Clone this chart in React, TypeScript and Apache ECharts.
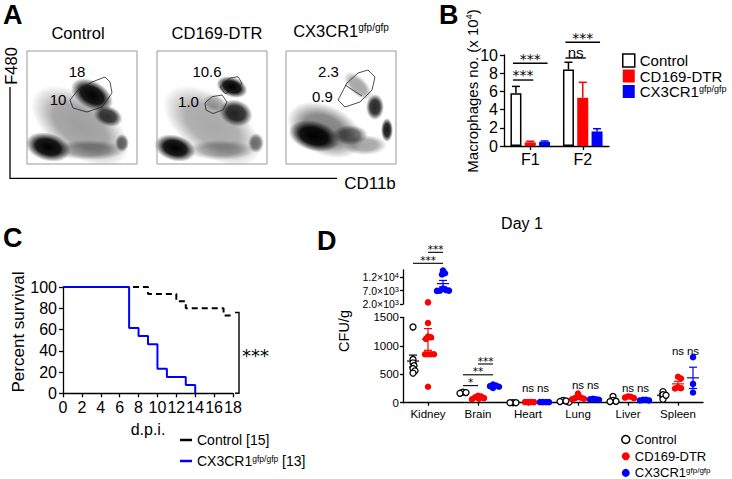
import React, { useEffect, useRef } from 'react';
import * as echarts from 'echarts';

const FONT = '"Liberation Sans", Arial, Helvetica, sans-serif';
const STAR_FONT = '"DejaVu Sans", Verdana, sans-serif';
const GROUP_COLORS = ['#000000', '#ff0000', '#0000ff'];

// ---------- Panel A (flow cytometry) ----------
const aTitles = ['Control', 'CD169-DTR', 'CX3CR1'];
const aGateUpper = ['18', '10.6', '2.3'];
const aGateLower = ['10', '1.0', '0.9'];

// ---------- Panel B ----------
const bCategories = ['F1', 'F2'];
const bGroupNames = ['Control', 'CD169-DTR', 'CX3CR1'];
const bControlMean = [5.8, 8.4];
const bControlErr = [0.75, 0.8];
const bCd169Mean = [0.4, 5.3];
const bCd169Err = [0.12, 1.7];
const bCx3Mean = [0.45, 1.6];
const bCx3Err = [0.1, 0.3];
const bSigCat = [0, 0, 1, 1];
const bSigFrom = [0, 0, 0, 0];
const bSigTo = [1, 2, 1, 2];
const bSigY = [7.25, 9.1, 9.67, 11.4];
const bSigLabel = ['***', '***', 'ns', '***'];

// ---------- Panel C ----------
const cNames = ['Control [15]', 'CX3CR1 [13]'];
const cControlDays = [0, 9, 12, 13, 17, 18];
const cControlSurv = [100, 93.3, 86.7, 80, 73.3, 73.3];
const cCx3Days = [0, 7, 8, 9, 10, 11, 13, 14];
const cCx3Surv = [100, 61.5, 53.8, 46.2, 23.1, 15.4, 7.7, 0];
const cBracket = [18, 76, 0];

// ---------- Panel D ----------
const dOrgans = ['Kidney', 'Brain', 'Heart', 'Lung', 'Liver', 'Spleen'];
const dControl = [
  [1330, 760, 700, 650, 600, 560, 520],
  [185, 165, 178],
  [0, 0, 0],
  [40, 20, 10, 30],
  [110, 40, 25, 20],
  [195, 140, 60, 130],
];
const dCd169 = [
  [2600, 1400, 1160, 1150, 1120, 850, 850, 850, 850, 280],
  [95, 80, 110, 120, 70, 60],
  [10, 10, 10, 10],
  [80, 60, 160, 90, 70, 100],
  [90, 105, 80, 110],
  [455, 425, 270, 255, 250],
];
const dCx3 = [
  [14500, 13500, 13000, 7800, 7000, 7000, 7200, 6900],
  [300, 280, 260, 320, 290],
  [10, 10, 10, 10],
  [60, 50, 70, 60],
  [50, 40, 50, 40],
  [800, 330, 180],
];
const dUpperTicks = [2000, 7000, 12000];
// brackets: [category, fromGroup, toGroup, y, label]
const dSigCat = [0, 0, 1, 1, 1];
const dSigFrom = [0, 1, 0, 0, 1];
const dSigTo = [2, 2, 1, 2, 2];
const dSigY = [17200, 21300, 300, 490, 680];
const dSigLabel = ['***', '***', '*', '**', '***'];
// ns labels: [category, group, y]
const dNsCat = [2, 2, 3, 3, 4, 4, 5, 5];
const dNsGroup = [1, 2, 1, 2, 1, 2, 1, 2];
const dNsY = [264, 264, 311, 311, 258, 258, 914, 914];

// ---------- layout constants ----------
const B_BAR_W = 11;
const B_SPACING = 14.3;
const D_LEFT = 403, D_WIDTH = 300;
const D_UP_TOP = 270, D_UP_H = 34, D_UP_MIN = 2000, D_UP_MAX = 14700;
const D_LOW_TOP = 317.3, D_LOW_H = 85.4, D_LOW_MAX = 1500;
const D_BREAK = 2000;
const D_GROUP_OFFSET = 0.3;

const supRich = (size: number) => ({
  n: { fontSize: size, fontFamily: FONT, color: '#000', verticalAlign: 'bottom', lineHeight: size },
  s: { fontSize: Math.round(size * 0.6 * 2) / 2, fontFamily: FONT, color: '#000', verticalAlign: 'top', lineHeight: size * 0.6 },
});
const supName = (name: string) =>
  name.startsWith('CX3CR1') ? `{n|CX3CR1}{s|gfp/gfp}{n|${name.slice(6)}}` : `{n|${name}}`;

function txt(x: number, y: number, text: string, o: any = {}) {
  const align = o.align || 'center';
  const va = o.va || 'middle';
  return {
    type: 'text', x, y, silent: true, rotation: o.rotation || 0, z: 100,
    style: {
      text, fill: '#000', fontFamily: o.family || FONT, fontSize: o.size || 14, fontWeight: o.weight || 'normal',
      align, verticalAlign: va, textAlign: align, textVerticalAlign: va, rich: o.rich,
    },
  };
}
function annot(x: number, y: number, text: string, star: boolean, size: number) {
  return {
    type: 'text', x, y,
    style: {
      text, fontFamily: star ? STAR_FONT : FONT, fontSize: size, lineHeight: star ? 8 : 10, fill: '#000',
      align: 'center', verticalAlign: 'middle', textAlign: 'center', textVerticalAlign: 'middle',
    },
  };
}

function dPixelY(v: number) {
  return v >= D_BREAK
    ? D_UP_TOP + D_UP_H - ((v - D_UP_MIN) / (D_UP_MAX - D_UP_MIN)) * D_UP_H
    : D_LOW_TOP + D_LOW_H - (v / D_LOW_MAX) * D_LOW_H;
}

function swarm(ys: number[], minDist: number, step: number) {
  const order = ys.map((_, i) => i).sort((a, b) => ys[a] - ys[b]);
  const placed: { x: number; y: number }[] = [];
  const xs = new Array(ys.length).fill(0);
  for (const i of order) {
    for (let k = 0; k < 200; k++) {
      const m = Math.ceil(k / 2);
      const cand = k === 0 ? 0 : k % 2 === 1 ? m * step : -m * step;
      if (placed.every((p) => Math.hypot(p.x - cand, p.y - ys[i]) >= minDist)) {
        xs[i] = cand;
        placed.push({ x: cand, y: ys[i] });
        break;
      }
    }
  }
  return xs;
}
const mean = (a: number[]) => a.reduce((s, v) => s + v, 0) / a.length;
const sem = (a: number[]) => {
  const m = mean(a);
  const sd = Math.sqrt(a.reduce((s, v) => s + (v - m) ** 2, 0) / (a.length - 1));
  return sd / Math.sqrt(a.length);
};

function panelAGraphics() {
  const boxes = [27, 157, 286];
  const top = 51, w = 110, h = 113;
  const blobs = [
    [[80, 126, 56, 30, -35, 0.38], [92, 95, 23, 14, -30, 1], [108, 116, 15, 10, -20, 0.8], [48, 147, 23, 14, -15, 1], [122, 143, 7, 9, 0, 0.6], [88, 150, 38, 10, 0, 0.35]],
    [[212, 126, 56, 30, -35, 0.34], [232, 87, 16, 10, -20, 1], [236, 113, 17, 13, -20, 0.85], [175, 148, 21, 13, -15, 1], [256, 143, 8, 10, 0, 0.55], [215, 103, 12, 8, -20, 0.25], [220, 150, 35, 10, 0, 0.3]],
    [[325, 130, 40, 25, -25, 0.5], [314, 136, 26, 15, -15, 1], [375, 107, 9, 13, 0, 0.85], [387, 130, 6, 12, 0, 0.9], [350, 135, 18, 10, 0, 0.55], [358, 86, 18, 9, -45, 0.35], [365, 145, 22, 10, 0, 0.35]],
  ];
  const gates = [
    [[[70, 100], [78, 90], [92, 82], [105, 77], [110, 82], [112, 93], [102, 107], [87, 112], [73, 108]]],
    [[[220, 87], [230, 78], [238, 76.7], [242, 83], [237, 90], [225, 93.5]], [[205, 103], [212, 96.7], [222, 95], [227, 102], [223, 110], [213, 113.5], [206, 110]]],
    [[[338, 100], [347, 83], [358, 73], [368, 70], [375, 77], [372, 90], [360, 102], [345, 107]]],
  ];
  const els: any[] = [];
  blobs.forEach((set) =>
    set.forEach(([cx, cy, rx, ry, rot, a]) => {
      els.push({
        type: 'ellipse', x: cx, y: cy, rotation: (rot * Math.PI) / 180, silent: true,
        shape: { cx: 0, cy: 0, rx, ry },
        style: {
          fill: new echarts.graphic.RadialGradient(0.5, 0.5, 0.5, [
            { offset: 0, color: `rgba(0,0,0,${a})` },
            { offset: 0.55, color: `rgba(0,0,0,${a * 0.9})` },
            { offset: 1, color: 'rgba(0,0,0,0)' },
          ]),
        },
      });
    })
  );
  gates.forEach((gs) =>
    gs.forEach((pts) =>
      els.push({ type: 'polygon', silent: true, shape: { points: pts }, style: { fill: 'none', stroke: '#222', lineWidth: 0.8 } })
    )
  );
  els.push({ type: 'line', silent: true, shape: { x1: 345, y1: 85, x2: 362, y2: 96 }, style: { stroke: '#222', lineWidth: 0.8 } });
  boxes.forEach((x) =>
    els.push({ type: 'rect', silent: true, shape: { x, y: top, width: w, height: h }, style: { fill: 'none', stroke: '#999', lineWidth: 1 } })
  );
  els.push({ type: 'polyline', silent: true, shape: { points: [[10, 87], [10, 178.3], [337, 178.3]] }, style: { stroke: '#000', lineWidth: 1.3, fill: 'none' } });
  els.push(txt(78, 33, aTitles[0], { size: 16.5 }));
  els.push(txt(217, 33, aTitles[1], { size: 16.5 }));
  els.push(txt(341, 31, `{n|${aTitles[2]}}{s|gfp/gfp}`, { rich: supRich(16.5) }));
  const upPos = [[77, 71], [207, 71], [328.5, 71]];
  const loPos = [[58, 99], [188.5, 101], [322.5, 96]];
  aGateUpper.forEach((t, i) => els.push(txt(upPos[i][0], upPos[i][1], t, { size: 15 })));
  aGateLower.forEach((t, i) => els.push(txt(loPos[i][0], loPos[i][1], t, { size: 15 })));
  els.push(txt(11, 66, 'F480', { size: 16.5, rotation: Math.PI / 2 }));
  els.push(txt(370, 183, 'CD11b', { size: 17 }));
  return els;
}

function buildOption() {
  const axisLine = { show: true, lineStyle: { color: '#000', width: 1.3 } };
  const tick = (len: number) => ({ show: true, length: len, lineStyle: { color: '#000', width: 1.3 } });

  const dGroups = [dControl, dCd169, dCx3];
  const pxPerCat = D_WIDTH / dOrgans.length;
  const pts: number[][][][] = [[[], []], [[], []], [[], []]];
  const errUp: number[][] = [], errLow: number[][] = [];
  dGroups.forEach((grp, g) =>
    grp.forEach((vals, c) => {
      const center = c + 0.5 + (g - 1) * D_GROUP_OFFSET;
      const dx = swarm(vals.map(dPixelY), 3, 1);
      vals.forEach((v, k) => (v >= D_BREAK ? pts[g][0] : pts[g][1]).push([center + dx[k] / pxPerCat, v]));
      const m = mean(vals);
      (m >= D_BREAK ? errUp : errLow).push([center, m, sem(vals), g]);
    })
  );
  const groupX = (c: number, g: number) => c + 0.5 + (g - 1) * D_GROUP_OFFSET;

  const errRender = (params: any, api: any) => {
    const x = api.value(0), m = api.value(1), s = api.value(2), g = api.value(3);
    const c = api.coord([x, m]), t = api.coord([x, m + s]), b = api.coord([x, Math.max(m - s, 0)]);
    const st = { stroke: GROUP_COLORS[g], lineWidth: 1.2 };
    return {
      type: 'group',
      children: [
        { type: 'line', shape: { x1: c[0], y1: t[1], x2: c[0], y2: b[1] }, style: st },
        { type: 'line', shape: { x1: c[0] - 6, y1: c[1], x2: c[0] + 6, y2: c[1] }, style: st },
        { type: 'line', shape: { x1: c[0] - 4, y1: t[1], x2: c[0] + 4, y2: t[1] }, style: st },
        { type: 'line', shape: { x1: c[0] - 4, y1: b[1], x2: c[0] + 4, y2: b[1] }, style: st },
      ],
    };
  };

  const dSigRender = (idxs: number[]) => (params: any, api: any) => {
    const i = idxs[params.dataIndex];
    const a = api.coord([groupX(dSigCat[i], dSigFrom[i]), dSigY[i]]);
    const b = api.coord([groupX(dSigCat[i], dSigTo[i]), dSigY[i]]);
    return {
      type: 'group',
      children: [
        { type: 'line', shape: { x1: a[0], y1: a[1], x2: b[0], y2: b[1] }, style: { stroke: '#000', lineWidth: 1.1 } },
        annot((a[0] + b[0]) / 2, a[1] - 3.4, dSigLabel[i], true, 10.5),
      ],
    };
  };
  const sigUp = dSigY.map((y, i) => (y >= D_BREAK ? i : -1)).filter((i) => i >= 0);
  const sigLow = dSigY.map((y, i) => (y < D_BREAK ? i : -1)).filter((i) => i >= 0);

  const series: any[] = [];
  [bControlMean, bCd169Mean, bCx3Mean].forEach((d, g) =>
    series.push({
      type: 'bar', name: bGroupNames[g], xAxisIndex: 0, yAxisIndex: 0, data: d, barWidth: B_BAR_W, barGap: '30%', silent: true,
      itemStyle: g === 0 ? { color: '#fff', borderColor: '#000', borderWidth: 1.5 } : { color: GROUP_COLORS[g] },
    })
  );
  const bMeans = [bControlMean, bCd169Mean, bCx3Mean];
  const bErrs = [bControlErr, bCd169Err, bCx3Err];
  series.push({
    type: 'custom', xAxisIndex: 0, yAxisIndex: 0, silent: true, encode: { x: 0, y: 2 },
    data: bCategories.flatMap((_, c) => [0, 1, 2].map((g) => [c, g, bMeans[g][c], bErrs[g][c]])),
    renderItem: (params: any, api: any) => {
      const c = api.value(0), g = api.value(1), m = api.value(2), e = api.value(3);
      const base = api.coord([c, m]), top = api.coord([c, m + e]);
      const x = base[0] + (g - 1) * B_SPACING;
      const st = { stroke: GROUP_COLORS[g], lineWidth: 1.5 };
      return {
        type: 'group',
        children: [
          { type: 'line', shape: { x1: x, y1: base[1], x2: x, y2: top[1] }, style: st },
          { type: 'line', shape: { x1: x - 4, y1: top[1], x2: x + 4, y2: top[1] }, style: st },
        ],
      };
    },
  });
  series.push({
    type: 'custom', xAxisIndex: 0, yAxisIndex: 0, silent: true, encode: { x: 0, y: 1 },
    data: bSigY.map((y, i) => [bSigCat[i], y]),
    renderItem: (params: any, api: any) => {
      const i = params.dataIndex;
      const c = api.coord([bSigCat[i], bSigY[i]]);
      const x1 = c[0] + (bSigFrom[i] - 1) * B_SPACING - 3;
      const x2 = c[0] + (bSigTo[i] - 1) * B_SPACING + 3;
      const star = bSigLabel[i].includes('*');
      return {
        type: 'group',
        children: [
          { type: 'line', shape: { x1, y1: c[1], x2, y2: c[1] }, style: { stroke: '#000', lineWidth: 1.4 } },
          annot((x1 + x2) / 2, c[1] - (star ? 4.6 : 5.6), bSigLabel[i], star, star ? 14 : 15),
        ],
      };
    },
  });
  series.push({
    type: 'line', name: cNames[0], xAxisIndex: 1, yAxisIndex: 1, step: 'end', symbol: 'none', silent: true,
    data: cControlDays.map((d, i) => [d, cControlSurv[i]]),
    lineStyle: { color: '#000', width: 2, type: [6, 4] }, itemStyle: { color: '#000' },
  });
  series.push({
    type: 'line', name: cNames[1], xAxisIndex: 1, yAxisIndex: 1, step: 'end', symbol: 'none', silent: true,
    data: cCx3Days.map((d, i) => [d, cCx3Surv[i]]),
    lineStyle: { color: '#0000ff', width: 2 }, itemStyle: { color: '#0000ff' },
  });
  series.push({
    type: 'custom', xAxisIndex: 1, yAxisIndex: 1, silent: true, encode: { x: 0, y: 1 },
    data: [cBracket],
    renderItem: (params: any, api: any) => {
      const t = api.coord([api.value(0), api.value(1)]);
      const b = api.coord([api.value(0), api.value(2)]);
      const x = t[0] + 6;
      return {
        type: 'group',
        children: [
          { type: 'polyline', shape: { points: [[x - 4, t[1]], [x, t[1]], [x, b[1]], [x - 4, b[1]]] }, style: { stroke: '#000', lineWidth: 1.4, fill: 'none' } },
          { type: 'text', x: x + 3, y: (t[1] + b[1]) / 2 + 3, style: { text: '***', fontFamily: STAR_FONT, fontSize: 18, fill: '#000', align: 'left', verticalAlign: 'middle', textAlign: 'left', textVerticalAlign: 'middle' } },
        ],
      };
    },
  });
  [0, 1, 2].forEach((g) =>
    [0, 1].forEach((lvl) =>
      series.push({
        type: 'scatter', name: bGroupNames[g], silent: true,
        xAxisIndex: lvl === 0 ? 2 : 4, yAxisIndex: lvl === 0 ? 2 : 3,
        data: pts[g][lvl], symbol: 'circle', symbolSize: g === 0 ? 6 : 6.5,
        itemStyle: g === 0 ? { color: '#fff', borderColor: '#000', borderWidth: 1.3, opacity: 1 } : { color: GROUP_COLORS[g], opacity: 1 },
      })
    )
  );
  series.push({ type: 'custom', xAxisIndex: 2, yAxisIndex: 2, silent: true, data: errUp, encode: { x: 0, y: 1 }, renderItem: errRender });
  series.push({ type: 'custom', xAxisIndex: 4, yAxisIndex: 3, silent: true, data: errLow, encode: { x: 0, y: 1 }, renderItem: errRender });
  series.push({ type: 'custom', xAxisIndex: 2, yAxisIndex: 2, silent: true, data: sigUp.map((i) => [dSigCat[i], dSigY[i]]), encode: { x: 0, y: 1 }, renderItem: dSigRender(sigUp) });
  series.push({ type: 'custom', xAxisIndex: 4, yAxisIndex: 3, silent: true, data: sigLow.map((i) => [dSigCat[i], dSigY[i]]), encode: { x: 0, y: 1 }, renderItem: dSigRender(sigLow) });
  series.push({
    type: 'custom', xAxisIndex: 4, yAxisIndex: 3, silent: true, encode: { x: 0, y: 1 },
    data: dNsY.map((y, i) => [groupX(dNsCat[i], dNsGroup[i]), y]),
    renderItem: (params: any, api: any) => {
      const p = api.coord([api.value(0), api.value(1)]);
      return { type: 'text', x: p[0], y: p[1], style: { text: 'ns', fontFamily: FONT, fontSize: 11.5, fill: '#000', align: 'center', verticalAlign: 'middle', textAlign: 'center', textVerticalAlign: 'middle' } };
    },
  });

  const sciLabel = (v: number) => {
    const e = Math.floor(Math.log10(v));
    return `{m|${(v / 10 ** e).toFixed(1)}×10}{s|${e}}`;
  };

  const graphic: any[] = [
    ...panelAGraphics(),
    txt(3, 14.5, 'A', { size: 27, weight: 'bold', align: 'left' }),
    txt(439, 14.5, 'B', { size: 27, weight: 'bold', align: 'left' }),
    txt(3, 238, 'C', { size: 27, weight: 'bold', align: 'left' }),
    txt(317, 241, 'D', { size: 27, weight: 'bold', align: 'left' }),
    txt(472, 91, '{n|Macrophages no. (x 10}{s|4}{n|)}', { rotation: Math.PI / 2, rich: supRich(15) }),
    txt(18, 332, 'Percent survival', { size: 17, rotation: Math.PI / 2 }),
    txt(148, 429, 'd.p.i.', { size: 16 }),
    txt(522, 223, 'Day 1', { size: 16 }),
    txt(344, 331, 'CFU/g', { size: 14.5, rotation: Math.PI / 2 }),
  ];

  return {
    animation: false,
    backgroundColor: '#fff',
    textStyle: { fontFamily: FONT, color: '#000' },
    grid: [
      { left: 504, top: 55, width: 105, height: 91, outerBoundsMode: 'none' },
      { left: 63, top: 287, width: 170, height: 106.3, outerBoundsMode: 'none' },
      { left: D_LEFT, top: D_UP_TOP, width: D_WIDTH, height: D_UP_H, outerBoundsMode: 'none' },
      { left: D_LEFT, top: D_LOW_TOP, width: D_WIDTH, height: D_LOW_H, outerBoundsMode: 'none' },
    ],
    xAxis: [
      { gridIndex: 0, type: 'category', data: bCategories, axisLine, axisTick: { ...tick(4), alignWithLabel: true }, axisLabel: { fontSize: 16, color: '#000', margin: 5 }, splitLine: { show: false } },
      { gridIndex: 1, type: 'value', min: 0, max: 18, interval: 2, axisLine, axisTick: tick(4), axisLabel: { fontSize: 16, color: '#000', margin: 6 }, splitLine: { show: false } },
      { gridIndex: 2, type: 'value', min: 0, max: 6, show: false },
      { gridIndex: 3, type: 'category', data: dOrgans, axisLine, axisTick: { ...tick(3), alignWithLabel: true }, axisLabel: { fontSize: 11.5, color: '#000', margin: 5 }, splitLine: { show: false } },
      { gridIndex: 3, type: 'value', min: 0, max: 6, show: false },
    ],
    yAxis: [
      { gridIndex: 0, type: 'value', min: 0, max: 10, interval: 2, axisLine, axisTick: tick(4), axisLabel: { fontSize: 16, color: '#000', margin: 6 }, splitLine: { show: false } },
      { gridIndex: 1, type: 'value', min: 0, max: 100, interval: 20, axisLine, axisTick: tick(4), axisLabel: { fontSize: 16, color: '#000', margin: 6 }, splitLine: { show: false } },
      {
        gridIndex: 2, type: 'value', min: D_UP_MIN, max: D_UP_MAX, axisLine, splitLine: { show: false },
        axisTick: { ...tick(3), customValues: dUpperTicks },
        axisLabel: {
          customValues: dUpperTicks, margin: 4, formatter: sciLabel,
          rich: { m: { fontSize: 10.5, fontFamily: FONT, color: '#000', verticalAlign: 'bottom', lineHeight: 11 }, s: { fontSize: 7.5, fontFamily: FONT, color: '#000', verticalAlign: 'top', lineHeight: 7 } },
        },
      },
      { gridIndex: 3, type: 'value', min: 0, max: D_LOW_MAX, interval: 500, axisLine, axisTick: tick(3), axisLabel: { fontSize: 11.5, color: '#000', margin: 4, formatter: (v: number) => String(v) }, splitLine: { show: false } },
    ],
    legend: [
      {
        orient: 'vertical', left: 622, top: 53, padding: 0, height: 60, itemWidth: 12, itemHeight: 13, itemGap: 0.5, selectedMode: false,
        data: [
          { name: bGroupNames[0], icon: 'rect', itemStyle: { color: '#fff', borderColor: '#000', borderWidth: 1.5 } },
          { name: bGroupNames[1], icon: 'rect', itemStyle: { color: '#ff0000', borderWidth: 0 } },
          { name: bGroupNames[2], icon: 'rect', itemStyle: { color: '#0000ff', borderWidth: 0 } },
        ],
        formatter: supName, textStyle: { fontSize: 15, lineHeight: 13, rich: supRich(15) },
      },
      {
        orient: 'vertical', left: 180, top: 433, padding: 0, height: 50, itemWidth: 12, itemHeight: 2.5, itemGap: 7, selectedMode: false,
        data: [
          { name: cNames[0], icon: 'rect', itemStyle: { color: '#000', borderWidth: 0 } },
          { name: cNames[1], icon: 'rect', itemStyle: { color: '#0000ff', borderWidth: 0 } },
        ],
        formatter: supName, textStyle: { fontSize: 14, rich: supRich(14) },
      },
      {
        orient: 'vertical', left: 621, top: 433, padding: 0, height: 50, itemWidth: 8, itemHeight: 8, itemGap: 3.7, selectedMode: false,
        data: [
          { name: bGroupNames[0], icon: 'circle', itemStyle: { color: '#fff', borderColor: '#000', borderWidth: 1.5 } },
          { name: bGroupNames[1], icon: 'circle', itemStyle: { color: '#ff0000', borderWidth: 0 } },
          { name: bGroupNames[2], icon: 'circle', itemStyle: { color: '#0000ff', borderWidth: 0 } },
        ],
        formatter: supName, textStyle: { fontSize: 13, rich: supRich(13) },
      },
    ],
    graphic,
    series,
  };
}

export default function App() {
  const ref = useRef<HTMLDivElement>(null);
  useEffect(() => {
    const chart = echarts.init(ref.current!, null, { renderer: 'svg' });
    chart.setOption(buildOption() as any);
    return () => chart.dispose();
  }, []);
  return <div ref={ref} style={{ position: 'fixed', left: 0, top: 0, width: 732, height: 479, background: '#fff' }} />;
}
